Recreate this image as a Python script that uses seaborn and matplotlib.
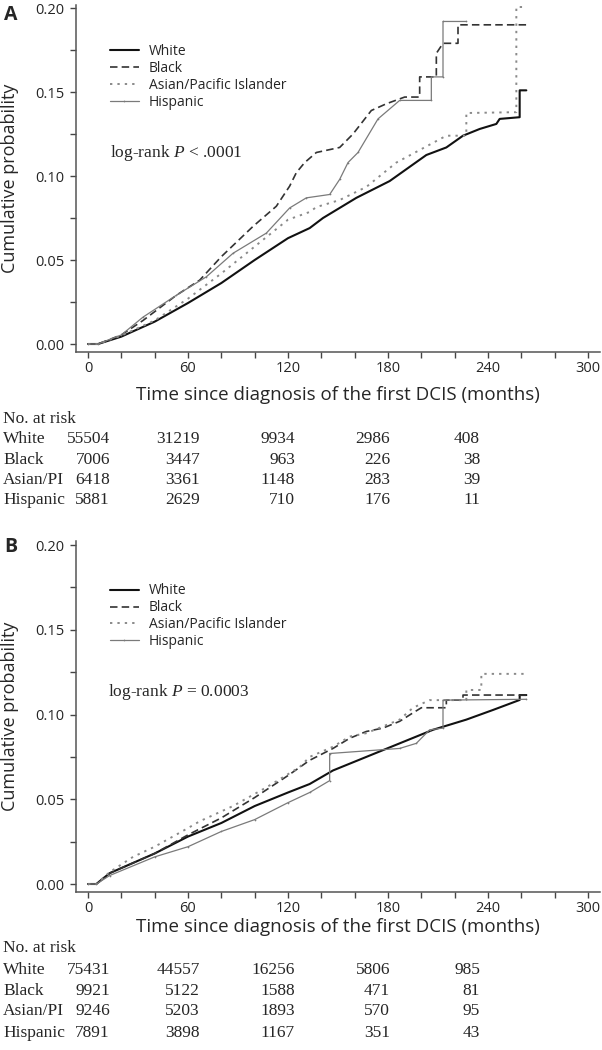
import numpy as np
import pandas as pd
import matplotlib
matplotlib.use('Agg')
import matplotlib.pyplot as plt
import seaborn as sns
from matplotlib.ticker import MultipleLocator

# ---- curves (months, cumulative probability) ----
groups = ['White', 'Black', 'Asian/Pacific Islander', 'Hispanic']

a_white_t = [0, 6, 20, 40, 60, 80, 100, 120, 133, 141, 161, 181, 203, 215, 225, 235, 245, 247, 259, 259, 263]
a_white_v = [0, 0, .0044, .0133, .0244, .0363, .050, .063, .069, .075, .087, .097, .1125, .117, .124, .128, .131, .134, .135, .151, .151]
a_black_t = [0, 6, 20, 33, 53, 67, 80, 99, 113, 121, 125, 130, 137, 151, 159, 170, 179, 190, 199, 199, 209, 209, 213, 222, 222, 263]
a_black_v = [0, 0, .0054, .014, .029, .038, .052, .070, .082, .094, .102, .108, .114, .117, .125, .139, .143, .147, .147, .159, .159, .173, .179, .179, .190, .190]
a_asian_t = [0, 6, 20, 40, 60, 80, 100, 120, 133, 137, 151, 167, 185, 200, 215, 227, 227, 257, 257, 263]
a_asian_v = [0, 0, .005, .014, .027, .042, .058, .074, .0786, .0815, .0857, .0935, .108, .116, .124, .124, .1375, .138, .2006, .2006]
a_hisp_t = [0, 6, 20, 33, 53, 71, 87, 107, 121, 131, 145, 151, 156, 162, 174, 187, 206, 206, 213, 213, 227]
a_hisp_v = [0, 0, .0054, .016, .029, .040, .054, .066, .081, .087, .089, .098, .108, .114, .134, .145, .145, .159, .159, .192, .192]

b_white_t = [0, 5, 13, 40, 60, 80, 100, 120, 133, 147, 167, 187, 207, 227, 243, 259, 259, 263]
b_white_v = [0, 0, .0064, .018, .028, .036, .046, .054, .059, .067, .075, .083, .091, .097, .1027, .1086, .1115, .1115]
b_black_t = [0, 5, 13, 40, 60, 80, 100, 120, 133, 147, 157, 167, 177, 187, 195, 200, 215, 215, 225, 225, 263]
b_black_v = [0, 0, .0064, .018, .029, .039, .051, .064, .073, .080, .086, .090, .092, .096, .101, .104, .104, .1085, .1085, .1115, .1115]
b_asian_t = [0, 5, 13, 27, 40, 60, 67, 87, 107, 127, 133, 147, 157, 167, 177, 187, 195, 205, 227, 227, 236, 236, 263]
b_asian_v = [0, 0, .007, .016, .022, .033, .037, .046, .057, .069, .075, .081, .087, .089, .093, .097, .104, .1085, .1085, .1145, .1145, .124, .124]
b_hisp_t = [0, 5, 13, 40, 60, 80, 100, 120, 133, 145, 145, 187, 197, 205, 213, 213, 263]
b_hisp_v = [0, 0, .005, .016, .022, .031, .038, .048, .054, .061, .077, .080, .083, .091, .092, .1085, .109]

# ---- numbers at risk ----
risk_labels = ['White', 'Black', 'Asian/PI', 'Hispanic']
a_risk = [[55504, 31219, 9934, 2986, 408],
          [7006, 3447, 963, 226, 38],
          [6418, 3361, 1148, 283, 39],
          [5881, 2629, 710, 176, 11]]
b_risk = [[75431, 44557, 16256, 5806, 985],
          [9921, 5122, 1588, 471, 81],
          [9246, 5203, 1893, 570, 95],
          [7891, 3898, 1167, 351, 43]]

sns.set_style('ticks')
plt.rcParams['font.family'] = ['Open Sans', 'DejaVu Sans']
plt.rcParams['mathtext.fontset'] = 'custom'
plt.rcParams['mathtext.it'] = 'Liberation Serif:italic'
plt.rcParams['mathtext.rm'] = 'Liberation Serif'

styles = {
    'White': dict(color='#111111', linestyle='-', linewidth=1.5),
    'Black': dict(color='#333333', linestyle=(0, (4.5, 2.5)), linewidth=1.2),
    'Asian/Pacific Islander': dict(color='#8a8a8a', linestyle=(0, (1.2, 2.6)), linewidth=1.4),
    'Hispanic': dict(color='#7a7a7a', linestyle='-', linewidth=0.9, marker='.', markersize=2.5,
                     markeredgewidth=0),
}

W, H = 602, 1050
fig = plt.figure(figsize=(W / 100, H / 100), dpi=100)


def px(x, y):
    return x / W, 1 - y / H


def panel(rect, ylim, curves, letter, letter_y, ptext, ptext_xy, risk, risk_rows, xlabel_y, leg_y):
    ax = fig.add_axes(rect)
    for g, (t, v) in zip(groups, curves):
        df = pd.DataFrame({'t': t, 'v': v})
        sns.lineplot(data=df, x='t', y='v', ax=ax, estimator=None, sort=False,
                     label=g, **styles[g])
    ax.set_xlim(-7.2, 307.2)
    ax.set_ylim(*ylim)
    ax.xaxis.set_major_locator(MultipleLocator(60))
    ax.xaxis.set_minor_locator(MultipleLocator(20))
    ax.yaxis.set_major_locator(MultipleLocator(0.05))
    ax.yaxis.set_minor_locator(MultipleLocator(0.025))
    ax.yaxis.set_major_formatter(plt.FormatStrFormatter('%.2f'))
    ax.tick_params(which='both', direction='out', length=4.5, width=1.0, color='#444444',
                   labelsize=10.5)
    ax.tick_params(axis='y', pad=4)
    ax.tick_params(axis='x', pad=2)
    sns.despine(ax=ax)
    for s in ['left', 'bottom']:
        ax.spines[s].set_linewidth(1.1)
        ax.spines[s].set_color('#555555')
    ax.set_ylabel('Cumulative probability', fontsize=13, va='center')
    ax.yaxis.set_label_coords(-0.126, 0.5)
    ax.set_xlabel('Time since diagnosis of the first DCIS (months)', fontsize=13.5, va='center')
    ax.xaxis.set_label_coords(0.5, xlabel_y)
    ax.legend(loc='upper left', bbox_to_anchor=(0.064, leg_y), frameon=False,
              fontsize=10, handlelength=2.1, handletextpad=0.75, labelspacing=0.14,
              borderpad=0, borderaxespad=0)
    fig.text(*px(4, letter_y), letter, fontsize=14, fontweight='bold', va='center', ha='left')
    fig.text(*px(*ptext_xy), ptext, fontsize=12.5, family='Liberation Serif', va='center')
    # number at risk table
    serif = dict(fontsize=12.5, family='Liberation Serif', va='center')
    fig.text(*px(3, risk_rows[0]), 'No. at risk', ha='left', **serif)
    col_right = [110, 200, 295, 390, 480]
    for lab, row, yy in zip(risk_labels, risk, risk_rows[1:]):
        fig.text(*px(3, yy), lab, ha='left', **serif)
        for n, xr in zip(row, col_right):
            fig.text(*px(xr, yy), str(n), ha='right', **serif)
    return ax


panel([76 / W, 1 - 352 / H, 524 / W, 347 / H], (-0.00476, 0.2018),
      [(a_white_t, a_white_v), (a_black_t, a_black_v), (a_asian_t, a_asian_v), (a_hisp_t, a_hisp_v)],
      'A', 15, 'log-rank $P$ < .0001', (110, 153), a_risk, [419, 439, 460, 480, 500], -0.124, 0.888)

panel([76 / W, 1 - 892 / H, 524 / W, 351 / H], (-0.00472, 0.2024),
      [(b_white_t, b_white_v), (b_black_t, b_black_v), (b_asian_t, b_asian_v), (b_hisp_t, b_hisp_v)],
      'B', 547, 'log-rank $P$ = 0.0003', (108, 692), b_risk, [948, 970, 991, 1011, 1033], -0.1, 0.879)

fig.savefig('out.png', dpi=100)
